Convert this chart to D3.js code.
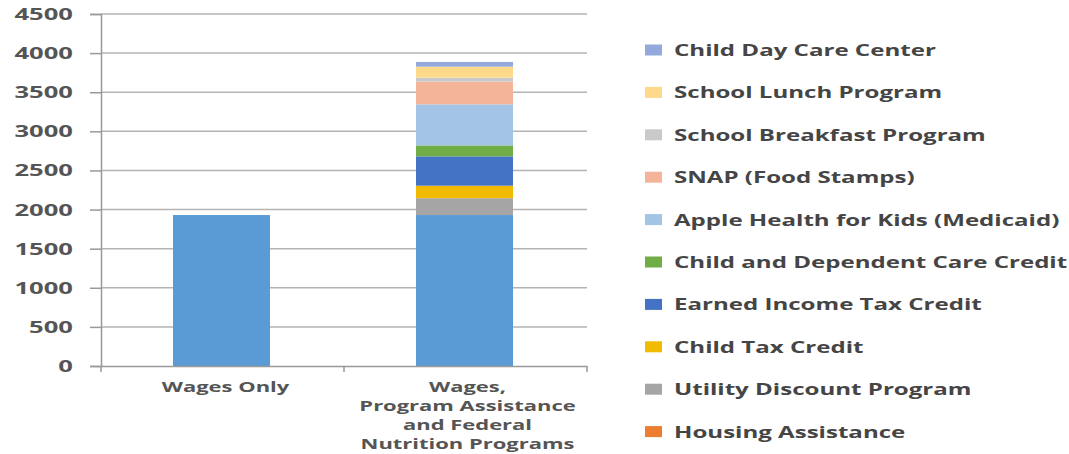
<!DOCTYPE html>
<html>
<head>
<meta charset="utf-8">
<script src="https://cdn.jsdelivr.net/npm/d3@7"></script>
<style>
  html, body { margin: 0; padding: 0; background: #fff; }
  svg text { font-family: "Open Sans", "Noto Sans", sans-serif; font-weight: 700; }
</style>
</head>
<body>
<svg id="chart" width="1069" height="454"></svg>
<script>
// ---- data ----
const categories = ["Wages Only", "Wages, Program Assistance and Federal Nutrition Programs"];
const categoryLines = [["Wages Only"], ["Wages,", "Program Assistance", "and Federal", "Nutrition Programs"]];
const seriesNames = [
  "Wages",
  "Housing Assistance",
  "Utility Discount Program",
  "Child Tax Credit",
  "Earned Income Tax Credit",
  "Child and Dependent Care Credit",
  "Apple Health for Kids (Medicaid)",
  "SNAP (Food Stamps)",
  "School Breakfast Program",
  "School Lunch Program",
  "Child Day Care Center"
];
const wages            = [1930, 1930];
const housing          = [0, 0];
const utility          = [0, 215];
const childTax         = [0, 160];
const eitc             = [0, 375];
const dependentCare    = [0, 140];
const appleHealth      = [0, 525];
const snap             = [0, 290];
const breakfast        = [0, 52];
const lunch            = [0, 140];
const dayCare          = [0, 60];
const yTicks = [0, 500, 1000, 1500, 2000, 2500, 3000, 3500, 4000, 4500];
const seriesColors = ["#5b9bd5", "#ed7d31", "#a5a5a5", "#f0bb00", "#4472c4", "#70ad47",
                      "#a4c4e6", "#f4b49a", "#c9c9c9", "#ffd98a", "#93a9dc"];
const legendOrder = [10, 9, 8, 7, 6, 5, 4, 3, 2, 1];

// ---- build table ----
const seriesValues = [wages, housing, utility, childTax, eitc, dependentCare, appleHealth, snap, breakfast, lunch, dayCare];
const table = categories.map((c, i) => {
  const row = { category: c };
  seriesNames.forEach((s, j) => row[s] = seriesValues[j][i]);
  return row;
});
const stack = d3.stack().keys(seriesNames)(table);

// ---- layout ----
const svg = d3.select("#chart");
const mLeft = 101, mRight = 587, mTop = 14, mBottom = 366;

const x = d3.scaleBand().domain(categories).range([mLeft, mRight]).paddingInner(0).paddingOuter(0);
const y = d3.scaleLinear().domain([0, 4500]).range([mBottom, mTop]);
const barW = 97;

// the original picture is horizontally stretched, so text is widened too
function stretchedText(g, px, py, str, anchor, size, color, sx) {
  return g.append("text")
    .attr("transform", `translate(${px},${py}) scale(${sx},1)`)
    .attr("text-anchor", anchor)
    .attr("font-size", size)
    .attr("fill", color)
    .text(str);
}

// gridlines
svg.append("g").selectAll("line").data(yTicks.filter(t => t > 0)).join("line")
  .attr("x1", mLeft).attr("x2", mRight)
  .attr("y1", d => y(d)).attr("y2", d => y(d))
  .attr("stroke", "#b4b4b4").attr("stroke-width", 1.5);

// bars
svg.append("g").selectAll("g").data(stack).join("g")
  .attr("fill", (d, i) => seriesColors[i])
  .selectAll("rect").data(d => d).join("rect")
  .attr("x", d => x(d.data.category) + x.bandwidth() / 2 - barW / 2 - 1)
  .attr("width", barW)
  .attr("y", d => y(d[1]))
  .attr("height", d => Math.max(0, y(d[0]) - y(d[1])));

// y axis
const yAxis = svg.append("g").attr("transform", `translate(${mLeft},0)`)
  .call(d3.axisLeft(y).tickValues(yTicks).tickSize(11).tickFormat(""));
yAxis.select(".domain").attr("stroke", "#999").attr("stroke-width", 1.5);
yAxis.selectAll(".tick line").attr("stroke", "#999").attr("stroke-width", 1.5);
const yLab = svg.append("g");
yTicks.forEach(t => stretchedText(yLab, 73, y(t) + 6, String(t), "end", 16, "#555", 1.6));

// x axis
const xAxis = svg.append("g").attr("transform", `translate(0,${mBottom})`)
  .call(d3.axisBottom(x).tickSize(0).tickFormat(""));
xAxis.select(".domain").attr("stroke", "#999").attr("stroke-width", 1.5);
svg.append("g").selectAll("line").data([mLeft, mLeft + x.bandwidth(), mRight]).join("line")
  .attr("x1", d => d).attr("x2", d => d)
  .attr("y1", mBottom).attr("y2", mBottom + 6)
  .attr("stroke", "#999").attr("stroke-width", 1.5);

// category labels (one text element per category, lines as tspans)
const xLab = svg.append("g");
categoryLines.forEach((lines, i) => {
  const cx = x(categories[i]) + x.bandwidth() / 2 + (i === 0 ? 3 : 2);
  const t = xLab.append("text")
    .attr("transform", `translate(${cx},391.5) scale(1.57,1)`)
    .attr("text-anchor", "middle")
    .attr("font-size", 14)
    .attr("fill", "#555");
  lines.forEach((ln, k) => t.append("tspan").attr("x", 0).attr("dy", k === 0 ? 0 : 19.1).text(ln));
});

// legend
const lg = svg.append("g");
legendOrder.forEach((si, k) => {
  const cy = 50 + k * 42.4;
  lg.append("rect").attr("x", 645).attr("y", cy - 5.5).attr("width", 17).attr("height", 11)
    .attr("fill", seriesColors[si]);
  stretchedText(lg, 674, cy + 6, seriesNames[si], "start", 16.5, "#454545", 1.46);
});
</script>
</body>
</html>
